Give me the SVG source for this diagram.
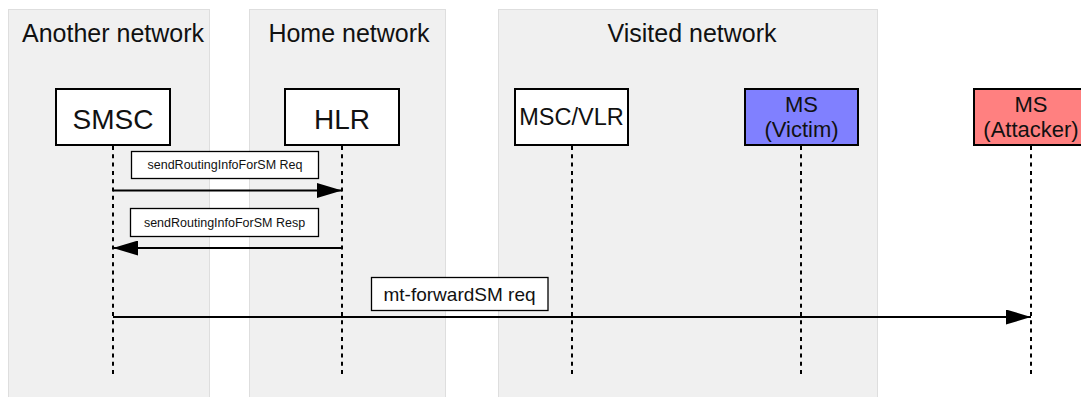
<svg xmlns="http://www.w3.org/2000/svg" width="1081" height="397" viewBox="0 0 1081 397">
  <style>
    text { font-family: "Liberation Sans", Arial, sans-serif; fill: #111; text-anchor: middle; }
    .zone { fill: #f0f0f0; stroke: #dedede; stroke-width: 1; }
    .zone-title { font-size: 25px; }
    .actor { stroke: #000; stroke-width: 2; }
    .big { font-size: 28px; }
    .mid { font-size: 23.5px; }
    .two { font-size: 22px; }
    .lifeline { stroke: #000; stroke-width: 2; stroke-dasharray: 4 4.3; fill: none; }
    .msg { stroke: #000; stroke-width: 2; fill: none; marker-end: url(#arrow); }
    .tag { fill: #fff; stroke: #000; stroke-width: 1.3; }
    .small { font-size: 12.5px; }
    .med { font-size: 19px; }
  </style>
  <defs>
    <marker id="arrow" markerUnits="userSpaceOnUse" markerWidth="25" markerHeight="15" refX="25" refY="7.5" orient="auto">
      <path d="M0,0 L25,7.5 L0,15 z" fill="#000"/>
    </marker>
  </defs>

  <!-- network zones -->
  <g id="zone-another">
    <rect class="zone" x="8.5" y="9.5" width="201" height="400"/>
    <text class="zone-title" x="113" y="41.5">Another network</text>
  </g>
  <g id="zone-home">
    <rect class="zone" x="249.5" y="9.5" width="196" height="400"/>
    <text class="zone-title" x="349" y="41.5">Home network</text>
  </g>
  <g id="zone-visited">
    <rect class="zone" x="498.5" y="9.5" width="379" height="400"/>
    <text class="zone-title" x="692" y="41.5">Visited network</text>
  </g>

  <!-- lifelines -->
  <g id="lifelines">
    <line class="lifeline" x1="113" y1="146" x2="113" y2="374"/>
    <line class="lifeline" x1="342" y1="146" x2="342" y2="374"/>
    <line class="lifeline" x1="572" y1="146" x2="572" y2="374"/>
    <line class="lifeline" x1="801" y1="146" x2="801" y2="374"/>
    <line class="lifeline" x1="1031" y1="146" x2="1031" y2="374"/>
  </g>

  <!-- actors -->
  <g id="smsc">
    <rect class="actor" x="56" y="89" width="114" height="56" fill="#fff"/>
    <text class="big" x="113" y="128.5">SMSC</text>
  </g>
  <g id="hlr">
    <rect class="actor" x="285" y="89" width="114" height="56" fill="#fff"/>
    <text class="big" x="342" y="128.5">HLR</text>
  </g>
  <g id="msc-vlr">
    <rect class="actor" x="515" y="89" width="113" height="56" fill="#fff"/>
    <text class="mid" x="571.5" y="125">MSC/VLR</text>
  </g>
  <g id="ms-victim">
    <rect class="actor" x="745" y="89" width="113" height="56" fill="#8080ff"/>
    <text class="two" x="801.5" y="111.7">MS</text>
    <text class="two" x="801.5" y="136.7">(Victim)</text>
  </g>
  <g id="ms-attacker">
    <rect class="actor" x="974" y="89" width="114" height="56" fill="#ff8080"/>
    <text class="two" x="1031" y="111.7">MS</text>
    <text class="two" x="1031" y="136.7">(Attacker)</text>
  </g>

  <!-- messages -->
  <g id="connectors">
    <line class="msg" x1="113" y1="190.5" x2="342" y2="190.5"/>
    <line class="msg" x1="342" y1="248" x2="113" y2="248"/>
    <line class="msg" x1="113" y1="317" x2="1031" y2="317"/>
  </g>

  <!-- message labels -->
  <g id="label-sri-req">
    <rect class="tag" x="131.5" y="151.5" width="187" height="27"/>
    <text class="small" x="225" y="169.3">sendRoutingInfoForSM Req</text>
  </g>
  <g id="label-sri-resp">
    <rect class="tag" x="130.5" y="208.5" width="188" height="28"/>
    <text class="small" x="224.5" y="226.8">sendRoutingInfoForSM Resp</text>
  </g>
  <g id="label-mt-forward">
    <rect class="tag" x="371.5" y="277.5" width="176.5" height="33"/>
    <text class="med" x="459.5" y="300.7">mt-forwardSM req</text>
  </g>
</svg>
